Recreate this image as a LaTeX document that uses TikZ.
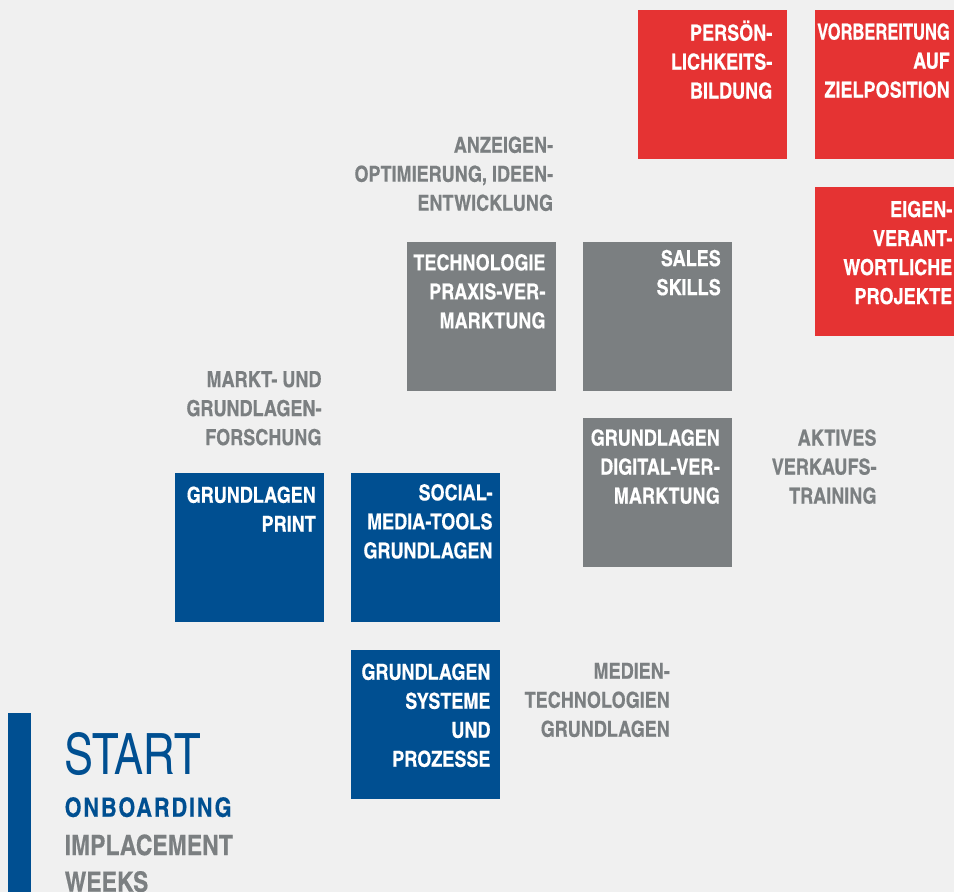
\documentclass[tikz,border=0pt]{standalone}
\usepackage{fontspec}
\setmainfont{texgyreheroscn}[Extension=.otf, UprightFont=*-regular, BoldFont=*-bold, ItalicFont=*-italic, BoldItalicFont=*-bolditalic, BoldFeatures={FakeBold=0.4}]
\definecolor{bgc}{RGB}{240,240,240}
\definecolor{redc}{RGB}{229,51,51}
\definecolor{bluec}{RGB}{0,79,145}
\definecolor{grayc}{RGB}{123,127,129}
\begin{document}
\begin{tikzpicture}[x=1pt,y=-1pt,
  tile/.style={minimum width=149pt, minimum height=149pt, inner sep=0pt, outer sep=0pt, anchor=north west},
  redtile/.style={tile, fill=redc},
  graytile/.style={tile, fill=grayc},
  bluetile/.style={tile, fill=bluec},
  intext/.style={font=\bfseries\fontsize{22}{29}\selectfont, text=white, align=right, inner sep=0pt, anchor=base east},
  outtext/.style={intext, text=grayc},
  starttext/.style={anchor=base west, inner sep=0pt}]
\useasboundingbox (0,0) rectangle (954,892);
\clip (0,0) rectangle (954,892);
\fill[bgc] (0,0) rectangle (954,892);

% tiles
\node[redtile] (pers) at (638,10) {};
\node[redtile] (vorb) at (815,10) {};
\node[redtile] (eigen) at (815,187) {};
\node[graytile] (tech) at (407,242) {};
\node[graytile] (sales) at (583,242) {};
\node[graytile] (digit) at (583,418) {};
\node[bluetile] (print) at (175,473) {};
\node[bluetile] (social) at (351,473) {};
\node[bluetile] (system) at (351,650) {};

% tile texts (anchored at the baseline of the last line)
\node[intext] (perst) at (772.5,98.5) {PERSÖN-\\LICHKEITS-\\BILDUNG};
\node[intext] (vorbt) at (950,97.5) {{\addfontfeature{FakeStretch=0.915}VORBEREITUNG}\\AUF\\ZIELPOSITION};
\node[intext] (eigent) at (952.5,304) {EIGEN-\\VERANT-\\WORTLICHE\\PROJEKTE};
\node[intext] (techt) at (545.7,328.3) {TECHNOLOGIE\\PRAXIS-VER-\\MARKTUNG};
\node[intext] (salest) at (721,295) {SALES\\SKILLS};
\node[intext] (digitt) at (720,503.5) {GRUNDLAGEN\\DIGITAL-VER-\\MARKTUNG};
\node[intext] (printt) at (316,531.7) {GRUNDLAGEN\\PRINT};
\node[intext] (socialt) at (492.7,558.3) {SOCIAL-\\MEDIA-TOOLS\\GRUNDLAGEN};
\node[intext] (systemt) at (490.7,766.7) {GRUNDLAGEN\\SYSTEME\\UND\\PROZESSE};

% outside labels
\node[outtext] (anz) at (553.3,210.7) {ANZEIGEN-\\OPTIMIERUNG, IDEEN-\\ENTWICKLUNG};
\node[outtext] (markt) at (321.7,445) {MARKT- UND\\GRUNDLAGEN-\\FORSCHUNG};
\node[outtext] (akt) at (876.7,503.5) {AKTIVES\\VERKAUFS-\\TRAINING};
\node[outtext] (medien) at (670,736.7) {MEDIEN-\\TECHNOLOGIEN\\GRUNDLAGEN};

% start block
\node[fill=bluec, minimum width=23pt, minimum height=180pt, anchor=north west, inner sep=0pt, outer sep=0pt] (bar) at (8,713) {};
\node[starttext, text=bluec, font=\fontsize{57}{57}\selectfont\addfontfeature{FakeStretch=0.93}] (start) at (64,774.5) {START};
\node[starttext, text=bluec, font=\bfseries\fontsize{26.5}{27}\selectfont\addfontfeature{LetterSpace=7}] (onb) at (64.5,816.7) {ONBOARDING};
\node[starttext, text=grayc, font=\bfseries\fontsize{28}{28}\selectfont] (impl) at (64.5,855) {IMPLACEMENT};
\node[starttext, text=grayc, font=\bfseries\fontsize{28}{28}\selectfont] (weeks) at (64.5,891.7) {WEEKS};
\end{tikzpicture}
\end{document}
